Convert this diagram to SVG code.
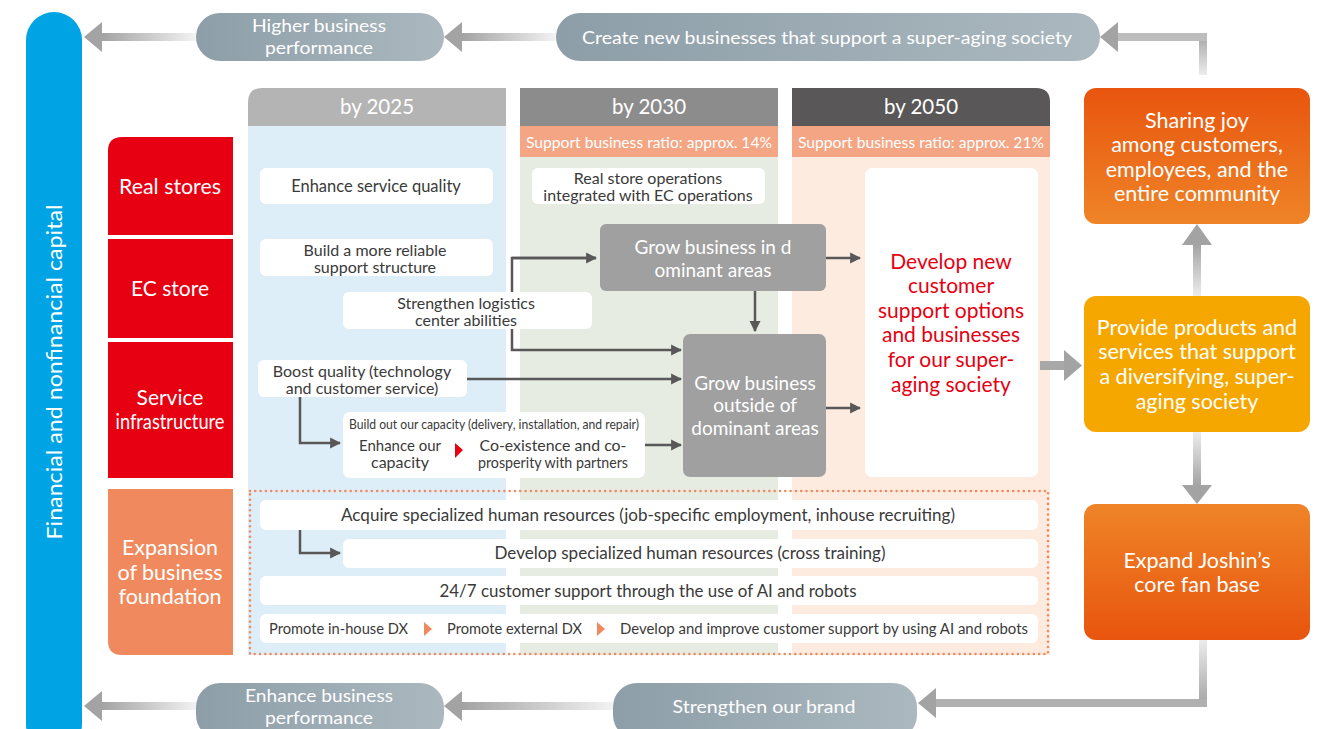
<svg xmlns="http://www.w3.org/2000/svg" width="1326" height="729" viewBox="0 0 1326 729">
<style>
text{font-family:Lato,"Open Sans","Liberation Sans",sans-serif}
.w{fill:#fff}
.t{fill:#3a3a3a;font-size:16.5px;text-anchor:middle}
.t2{fill:#3a3a3a;font-size:16px;text-anchor:middle}
.lbl{fill:#fff;font-size:21px;text-anchor:middle}
.hdr{fill:#fff;font-size:20.5px;text-anchor:middle}
.sub{fill:#fff;font-size:16px}
.pill{fill:#fff;font-size:17px;text-anchor:middle}
.gb{fill:#fff;font-size:19px;text-anchor:middle}
.red{fill:#e60012;font-size:21px;text-anchor:middle}
.rb{fill:#fff;font-size:21.5px;text-anchor:middle}
.con{fill:none;stroke:#595757;stroke-width:2.5}
</style>
<defs>
<linearGradient id="pillG" x1="0" y1="0" x2="1" y2="0"><stop offset="0" stop-color="#8d9ea8"/><stop offset="1" stop-color="#abb8bf"/></linearGradient>
<linearGradient id="shaftL" x1="0" y1="0" x2="1" y2="0"><stop offset="0" stop-color="#a3a3a3"/><stop offset="1" stop-color="#f2f2f2"/></linearGradient>
<linearGradient id="shaftV" x1="0" y1="0" x2="0" y2="1"><stop offset="0" stop-color="#a3a3a3"/><stop offset="1" stop-color="#ececec"/></linearGradient>
<linearGradient id="shaftVd" x1="0" y1="0" x2="0" y2="1"><stop offset="0" stop-color="#ececec"/><stop offset="1" stop-color="#a3a3a3"/></linearGradient>
<linearGradient id="orgTop" x1="0" y1="0" x2="0" y2="1"><stop offset="0" stop-color="#e8550e"/><stop offset="1" stop-color="#ef8427"/></linearGradient>
<linearGradient id="orgBot" x1="0" y1="0" x2="0" y2="1"><stop offset="0" stop-color="#ef8427"/><stop offset="1" stop-color="#e8550e"/></linearGradient>
<marker id="ah" viewBox="0 0 10 10" refX="9" refY="5" markerWidth="11" markerHeight="13" markerUnits="userSpaceOnUse" orient="auto"><path d="M0,0 L10,5 L0,10 Z" fill="#595757"/></marker>
</defs>

<rect width="1326" height="729" fill="#fff"/>

<!-- capital bar -->
<g id="capital">
<rect x="26" y="12" width="56" height="740" rx="28" fill="#00a4e4"/>
<text class="lbl" transform="translate(62,372) rotate(-90)" textLength="335" lengthAdjust="spacingAndGlyphs">Financial and nonfinancial capital</text>
</g>

<!-- columns -->
<g id="col2025">
<path d="M248,126 V102 Q248,88 262,88 H506 V126 Z" fill="#b4b4b4"/>
<rect x="248" y="126" width="258" height="529" fill="#ddeef9"/>
<text class="hdr" x="377" y="114">by 2025</text>
</g>
<g id="col2030">
<rect x="520" y="88" width="258" height="38" fill="#8c8c8c"/>
<rect x="520" y="126" width="258" height="31" fill="#f4a583"/>
<rect x="520" y="157" width="258" height="498" fill="#e6ece1"/>
<text class="hdr" x="649" y="114">by 2030</text>
<text class="sub" x="526" y="148" textLength="246" lengthAdjust="spacingAndGlyphs">Support business ratio: approx. 14%</text>
</g>
<g id="col2050">
<path d="M792,88 H1036 Q1050,88 1050,102 V126 H792 Z" fill="#595757"/>
<rect x="792" y="126" width="258" height="31" fill="#f4a583"/>
<rect x="792" y="157" width="258" height="498" fill="#fdebdf"/>
<text class="hdr" x="921" y="114">by 2050</text>
<text class="sub" x="798" y="148" textLength="246" lengthAdjust="spacingAndGlyphs">Support business ratio: approx. 21%</text>
</g>

<!-- row labels -->
<g id="row-real">
<path d="M108,235 V151 Q108,137 122,137 H233 V235 Z" fill="#e60012"/>
<text class="lbl" x="170" y="194" textLength="102" lengthAdjust="spacingAndGlyphs">Real stores</text>
</g>
<g id="row-ec">
<rect x="108" y="239" width="125" height="99" fill="#e60012"/>
<text class="lbl" x="170" y="296">EC store</text>
</g>
<g id="row-service">
<rect x="108" y="342" width="125" height="136" fill="#e60012"/>
<text class="lbl" x="170" y="405">Service</text>
<text class="lbl" x="170" y="429" textLength="109" lengthAdjust="spacingAndGlyphs">infrastructure</text>
</g>
<g id="row-foundation">
<path d="M108,489 H233 V655 H122 Q108,655 108,641 Z" fill="#f08a5e"/>
<text class="lbl" x="170" y="555" textLength="96" lengthAdjust="spacingAndGlyphs">Expansion</text>
<text class="lbl" x="170" y="580" textLength="105" lengthAdjust="spacingAndGlyphs">of business</text>
<text class="lbl" x="170" y="604" textLength="103" lengthAdjust="spacingAndGlyphs">foundation</text>
</g>

<!-- connectors -->
<g id="connectors">
<polyline class="con" points="596,258 512,258 512,350 681,350" marker-end="url(#ah)"/>
<line class="con" x1="512" y1="258" x2="596" y2="258" marker-end="url(#ah)"/>
<line class="con" x1="467" y1="379" x2="681" y2="379" marker-end="url(#ah)"/>
<polyline class="con" points="300,397 300,443 340,443" marker-end="url(#ah)"/>
<line class="con" x1="645" y1="445" x2="681" y2="445" marker-end="url(#ah)"/>
<line class="con" x1="755" y1="291" x2="755" y2="331" marker-end="url(#ah)"/>
<line class="con" x1="826" y1="258" x2="860" y2="258" marker-end="url(#ah)"/>
<line class="con" x1="826" y1="408" x2="860" y2="408" marker-end="url(#ah)"/>
<polyline class="con" points="300,530 300,553 340,553" marker-end="url(#ah)"/>

<rect x="462" y="33" width="94" height="8" fill="url(#shaftL)"/>
<path d="M444,37 L462,22 V52 Z" fill="#a3a3a3"/>
<rect x="102" y="33" width="94" height="8" fill="url(#shaftL)"/>
<path d="M84,37 L102,22 V52 Z" fill="#a3a3a3"/>
<rect x="1199" y="33" width="8" height="42" fill="url(#shaftV)"/>
<rect x="1118" y="33" width="89" height="8" fill="#bdbdbd"/>
<path d="M1100,37 L1118,22 V52 Z" fill="#a3a3a3"/>
<rect x="1199" y="640" width="8" height="67" fill="url(#shaftVd)"/>
<rect x="936" y="699" width="271" height="8" fill="#b0b0b0"/>
<path d="M918,703 L936,688 V718 Z" fill="#a3a3a3"/>
<rect x="462" y="702" width="151" height="8" fill="url(#shaftL)"/>
<path d="M444,706 L462,691 V721 Z" fill="#a3a3a3"/>
<rect x="102" y="702" width="94" height="8" fill="url(#shaftL)"/>
<path d="M84,706 L102,691 V721 Z" fill="#a3a3a3"/>
<rect x="1040" y="361" width="26" height="9" fill="#a8a8a8"/>
<path d="M1082,365.5 L1064,350 V381 Z" fill="#a3a3a3"/>
<rect x="1193" y="244" width="8" height="52" fill="url(#shaftV)"/>
<path d="M1197,224 L1182,245 H1212 Z" fill="#a3a3a3"/>
<rect x="1193" y="432" width="8" height="54" fill="url(#shaftVd)"/>
<path d="M1197,504 L1182,485 H1212 Z" fill="#a3a3a3"/>
</g>

<!-- pills -->
<g id="pill-higher">
<rect x="196" y="13" width="248" height="48" rx="24" fill="url(#pillG)"/>
<text class="pill" x="319" y="32" textLength="134" lengthAdjust="spacingAndGlyphs">Higher business</text>
<text class="pill" x="319" y="54" textLength="108" lengthAdjust="spacingAndGlyphs">performance</text>
</g>
<g id="pill-create">
<rect x="556" y="13" width="544" height="48" rx="24" fill="url(#pillG)"/>
<text class="pill" x="827" y="44" font-size="18" textLength="490" lengthAdjust="spacingAndGlyphs">Create new businesses that support a super-aging society</text>
</g>
<g id="pill-enhance">
<rect x="196" y="683" width="248" height="56" rx="24" fill="url(#pillG)"/>
<text class="pill" x="319" y="702" textLength="148" lengthAdjust="spacingAndGlyphs">Enhance business</text>
<text class="pill" x="319" y="724" textLength="108" lengthAdjust="spacingAndGlyphs">performance</text>
</g>
<g id="pill-brand">
<rect x="613" y="683" width="304" height="56" rx="24" fill="url(#pillG)"/>
<text class="pill" x="764" y="713" font-size="18" textLength="183" lengthAdjust="spacingAndGlyphs">Strengthen our brand</text>
</g>

<!-- white boxes -->
<g id="n-service-quality">
<rect class="w" x="260" y="168" width="233" height="36" rx="6"/>
<text class="t" x="376" y="192">Enhance service quality</text>
</g>
<g id="n-reliable">
<rect class="w" x="260" y="239" width="233" height="37" rx="6"/>
<text class="t2" x="375" y="256">Build a more reliable</text>
<text class="t2" x="375" y="273">support structure</text>
</g>
<g id="n-logistics">
<rect class="w" x="343" y="292" width="249" height="37" rx="6"/>
<text class="t2" x="466" y="309">Strengthen logistics</text>
<text class="t2" x="466" y="326">center abilities</text>
</g>
<g id="n-realstore-ec">
<rect class="w" x="532" y="168" width="233" height="36" rx="6"/>
<text class="t2" x="648" y="184" font-size="14.5">Real store operations</text>
<text class="t2" x="648" y="201" font-size="14.5">integrated with EC operations</text>
</g>
<g id="n-boost">
<rect class="w" x="258" y="360" width="209" height="37" rx="6"/>
<text class="t2" x="362" y="377">Boost quality (technology</text>
<text class="t2" x="362" y="394">and customer service)</text>
</g>
<g id="n-buildout">
<rect class="w" x="343" y="412" width="302" height="66" rx="7"/>
<text x="349" y="429" font-size="12.5" fill="#3a3a3a" textLength="290" lengthAdjust="spacingAndGlyphs">Build out our capacity (delivery, installation, and repair)</text>
<text class="t2" x="400" y="451" font-size="13.5" textLength="82" lengthAdjust="spacingAndGlyphs">Enhance our</text>
<text class="t2" x="400" y="468" font-size="13.5">capacity</text>
<path d="M455,443 L463,450 L455,458 Z" fill="#e60012"/>
<text class="t2" x="553" y="451" font-size="13.5" textLength="147" lengthAdjust="spacingAndGlyphs">Co-existence and co-</text>
<text class="t2" x="553" y="468" font-size="13.5" textLength="150" lengthAdjust="spacingAndGlyphs">prosperity with partners</text>
</g>
<g id="n-grow-dominant">
<rect x="600" y="224" width="226" height="67" rx="6" fill="#a0a0a0"/>
<text class="gb" x="713" y="254">Grow business in d</text>
<text class="gb" x="713" y="277">ominant areas</text>
</g>
<g id="n-grow-outside">
<rect x="683" y="334" width="143" height="143" rx="7" fill="#a0a0a0"/>
<text class="gb" x="755" y="390">Grow business</text>
<text class="gb" x="755" y="412">outside of</text>
<text class="gb" x="755" y="435">dominant areas</text>
</g>
<g id="n-develop-new">
<rect class="w" x="865" y="168" width="173" height="309" rx="7"/>
<text class="red" x="951" y="269">Develop new</text>
<text class="red" x="951" y="293">customer</text>
<text class="red" x="951" y="318">support options</text>
<text class="red" x="951" y="342">and businesses</text>
<text class="red" x="951" y="367">for our super-</text>
<text class="red" x="951" y="392">aging society</text>
</g>

<!-- foundation -->
<g id="foundation-border">
<rect x="250" y="491" width="798" height="163" fill="none" stroke="#f08a5e" stroke-width="2.6" stroke-linecap="round" stroke-dasharray="0 5.3"/>
</g>
<g id="n-acquire">
<rect class="w" x="260" y="500" width="778" height="30" rx="6"/>
<text class="t" x="648" y="521" font-size="15" textLength="614" lengthAdjust="spacingAndGlyphs">Acquire specialized human resources (job-specific employment, inhouse recruiting)</text>
</g>
<g id="n-develop-hr">
<rect class="w" x="343" y="539" width="695" height="29" rx="6"/>
<text class="t" x="690" y="559" font-size="15" textLength="391" lengthAdjust="spacingAndGlyphs">Develop specialized human resources (cross training)</text>
</g>
<g id="n-247">
<rect class="w" x="260" y="576" width="778" height="29" rx="6"/>
<text class="t" x="648" y="597" font-size="15" textLength="417" lengthAdjust="spacingAndGlyphs">24/7 customer support through the use of AI and robots</text>
</g>
<g id="n-dx">
<rect class="w" x="260" y="614" width="778" height="29" rx="6"/>
<text x="269" y="634" font-size="14.5" fill="#3a3a3a" textLength="139" lengthAdjust="spacingAndGlyphs">Promote in-house DX</text>
<path d="M424,622 L432,629 L424,636 Z" fill="#f08a5e"/>
<text x="447" y="634" font-size="14.5" fill="#3a3a3a" textLength="135" lengthAdjust="spacingAndGlyphs">Promote external DX</text>
<path d="M597,622 L605,629 L597,636 Z" fill="#f08a5e"/>
<text x="620" y="634" font-size="14.5" fill="#3a3a3a" textLength="408" lengthAdjust="spacingAndGlyphs">Develop and improve customer support by using AI and robots</text>
</g>

<!-- right boxes -->
<g id="n-sharing">
<rect x="1084" y="88" width="226" height="136" rx="12" fill="url(#orgTop)"/>
<text class="rb" x="1197" y="128">Sharing joy</text>
<text class="rb" x="1197" y="152">among customers,</text>
<text class="rb" x="1197" y="177">employees, and the</text>
<text class="rb" x="1197" y="201">entire community</text>
</g>
<g id="n-provide">
<rect x="1084" y="296" width="226" height="136" rx="12" fill="#f5a700"/>
<text class="rb" x="1197" y="335">Provide products and</text>
<text class="rb" x="1197" y="359">services that support</text>
<text class="rb" x="1197" y="384">a diversifying, super-</text>
<text class="rb" x="1197" y="409">aging society</text>
</g>
<g id="n-expand">
<rect x="1084" y="504" width="226" height="136" rx="12" fill="url(#orgBot)"/>
<text class="rb" x="1197" y="568">Expand Joshin’s</text>
<text class="rb" x="1197" y="592">core fan base</text>
</g>
</svg>
